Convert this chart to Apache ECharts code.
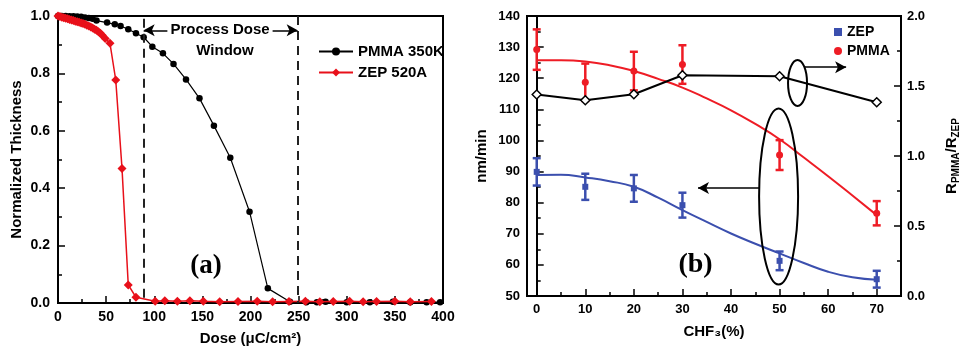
<!DOCTYPE html>
<html>
<head>
<meta charset="utf-8">
<script src="https://cdn.jsdelivr.net/npm/echarts@6/dist/echarts.min.js"></script>
<style>
  html, body { margin: 0; background: #fff; }
  #chart { width: 962px; height: 351px; }
</style>
</head>
<body>
<div id="chart"></div>
<script>
const FONT = '"Liberation Sans", Arial, sans-serif';
const SERIF = '"Liberation Serif", "Times New Roman", serif';

// ---- panel (a): contrast curves ----
const pmmaDose = [0, 4, 8, 12, 16, 20, 24, 28, 32, 36, 40, 51, 59, 65, 73, 81, 89, 98, 109, 120,
  133, 147, 162, 179, 199, 218, 241, 258, 269, 278, 300, 324, 348, 366, 383, 397];
const pmmaThickness = [1.0, 1.0, 1.0, 0.999, 0.999, 0.998, 0.997, 0.995, 0.993, 0.99, 0.984, 0.977,
  0.971, 0.965, 0.954, 0.94, 0.926, 0.893, 0.87, 0.833, 0.779, 0.713, 0.618, 0.506, 0.318, 0.051,
  0.004, 0.003, 0.003, 0.004, 0.003, 0.003, 0.004, 0.003, 0.003, 0.003];

const zepDose = [0, 2, 4, 6, 8, 10, 12, 14, 16, 18, 20, 22, 24, 26, 28, 30, 32, 34, 36, 38, 40, 42,
  44, 46, 49, 54, 60, 66.5, 73, 81, 101, 111, 124, 137, 151, 168, 187, 207, 223, 240, 257, 272, 286,
  303, 317, 331, 350, 366, 388];
const zepThickness = [1.0, 0.998, 0.996, 0.994, 0.992, 0.99, 0.988, 0.986, 0.984, 0.982, 0.98, 0.978,
  0.976, 0.974, 0.971, 0.968, 0.965, 0.962, 0.958, 0.954, 0.95, 0.945, 0.94, 0.933, 0.922, 0.905,
  0.777, 0.469, 0.063, 0.02, 0.006, 0.008, 0.006, 0.008, 0.006, 0.004, 0.005, 0.006, 0.004, 0.005,
  0.006, 0.004, 0.005, 0.006, 0.004, 0.005, 0.006, 0.004, 0.005];

const doseWindow = [89, 249];

// ---- panel (b): etch rates vs CHF3 ----
const chfPercent = [0, 10, 20, 30, 50, 70];
const zepRate = [89.9, 85.1, 84.6, 79.2, 61.3, 55.4];
const zepErr = [4.4, 4.2, 4.3, 4.0, 3.0, 2.7];
const pmmaRate = [129.2, 118.7, 122.3, 124.4, 95.3, 76.6];
const pmmaErr = [6.5, 6.0, 6.2, 6.2, 4.8, 3.9];
const rateRatio = [1.439, 1.398, 1.441, 1.577, 1.570, 1.384];

const fitX = [0, 5, 10, 15, 20, 25, 30, 35, 40, 45, 50, 55, 60, 65, 70];
const zepFit = [88.9, 89.0, 88.1, 86.9, 85.1, 81.6, 77.6, 73.8, 70.1, 66.8, 63.7, 60.6, 57.8, 56.0, 55.2];
const pmmaFit = [125.8, 125.8, 125.4, 124.2, 122.3, 119.8, 117.0, 113.5, 109.7, 105.3, 100.4, 94.5, 88.5, 82.3, 76.0];

const RED = '#ee1c25';
const BLUE = '#3b4fae';

const zip = (xs, ys) => xs.map((x, i) => [x, ys[i]]);
const errRows = (vals, errs) => chfPercent.map((x, i) => [x, vals[i] - errs[i], vals[i] + errs[i]]);

const labelStyle = (size) => ({ color: '#000', fontFamily: FONT, fontWeight: 'bold', fontSize: size });
const nameStyle = { color: '#000', fontFamily: FONT, fontWeight: 'bold', fontSize: 15 };
const axisLine = { show: true, lineStyle: { color: '#000', width: 2 } };
const tick = { show: true, inside: true, length: 7, lineStyle: { color: '#000', width: 1.5 } };
const minor = { show: true, splitNumber: 2, length: 4, lineStyle: { color: '#000', width: 1.5 } };

function errorBar(color) {
  return function (params, api) {
    const x = api.value(0);
    const lo = api.coord([x, api.value(1)]);
    const hi = api.coord([x, api.value(2)]);
    const style = { stroke: color, lineWidth: 2.5 };
    return {
      type: 'group',
      children: [
        { type: 'line', shape: { x1: lo[0], y1: lo[1], x2: hi[0], y2: hi[1] }, style },
        { type: 'line', shape: { x1: lo[0] - 4, y1: lo[1], x2: lo[0] + 4, y2: lo[1] }, style },
        { type: 'line', shape: { x1: hi[0] - 4, y1: hi[1], x2: hi[0] + 4, y2: hi[1] }, style },
      ],
    };
  };
}

const arrowLine = (from, to, symbols) => ({
  silent: true,
  symbol: symbols,
  symbolSize: [9, 11],
  label: { show: false },
  lineStyle: { color: '#000', width: 1.5, type: 'solid' },
  emphasis: { disabled: true },
  data: [[{ coord: from }, { coord: to }]],
});

const chart = echarts.init(document.getElementById('chart'));

chart.setOption({
  backgroundColor: '#fff',
  animation: false,
  grid: [
    { left: 58, top: 16, width: 385, height: 287, show: true, borderColor: '#000', borderWidth: 2 },
    { left: 527, top: 16, width: 379, height: 280, show: true, borderColor: '#000', borderWidth: 2 },
  ],
  legend: [
    {
      data: ['PMMA 350K', 'ZEP 520A'],
      orient: 'vertical', left: 313, top: 39,
      itemWidth: 34, itemHeight: 10, itemGap: 6,
      textStyle: labelStyle(15),
    },
    {
      data: [{ name: 'ZEP', icon: 'rect' }, { name: 'PMMA', icon: 'circle' }],
      orient: 'vertical', left: 829, top: 20,
      itemWidth: 8, itemHeight: 8, itemGap: 5,
      textStyle: labelStyle(14),
    },
  ],
  xAxis: [
    {
      gridIndex: 0, type: 'value', min: 0, max: 400, interval: 50,
      name: 'Dose (μC/cm²)', nameLocation: 'middle', nameGap: 28, nameTextStyle: nameStyle,
      axisLine, axisTick: tick, minorTick: minor, splitLine: { show: false },
      axisLabel: { ...labelStyle(14), margin: 7 },
    },
    {
      gridIndex: 1, type: 'value', min: -2, max: 75, splitNumber: 8,
      name: 'CHF₃(%)', nameLocation: 'middle', nameGap: 28, nameTextStyle: nameStyle,
      axisLine, axisTick: tick, minorTick: minor, splitLine: { show: false },
      axisLabel: { ...labelStyle(13), margin: 7, showMinLabel: false, showMaxLabel: false },
    },
  ],
  yAxis: [
    {
      gridIndex: 0, type: 'value', min: 0, max: 1, interval: 0.2,
      name: 'Normalized Thickness', nameLocation: 'middle', nameGap: 34, nameTextStyle: nameStyle,
      axisLine, axisTick: tick, minorTick: minor, splitLine: { show: false },
      axisLabel: { ...labelStyle(14), margin: 8, formatter: (v) => v.toFixed(1) },
    },
    {
      gridIndex: 1, type: 'value', min: 50, max: 140, interval: 10,
      name: 'nm/min', nameLocation: 'middle', nameGap: 38, nameTextStyle: nameStyle,
      axisLine, axisTick: tick, minorTick: minor, splitLine: { show: false },
      axisLabel: { ...labelStyle(13), margin: 7 },
    },
    {
      gridIndex: 1, type: 'value', position: 'right', min: 0, max: 2, interval: 0.5,
      name: 'R{s|PMMA}/R{s|ZEP}', nameLocation: 'middle', nameGap: 41, nameRotate: 90,
      nameTextStyle: { ...nameStyle, rich: { s: { ...labelStyle(10), padding: [9, 0, 0, 0] } } },
      axisLine, axisTick: tick, minorTick: minor, splitLine: { show: false },
      axisLabel: { ...labelStyle(13), margin: 6, formatter: (v) => v.toFixed(1) },
    },
  ],
  series: [
    {
      name: 'PMMA 350K', type: 'line', xAxisIndex: 0, yAxisIndex: 0,
      data: zip(pmmaDose, pmmaThickness),
      symbol: 'circle', symbolSize: 6.5,
      itemStyle: { color: '#000' }, lineStyle: { color: '#000', width: 1.2 },
      markLine: {
        silent: true, symbol: ['none', 'none'], label: { show: false },
        lineStyle: { color: '#222', width: 2, type: [9, 6] },
        emphasis: { disabled: true },
        data: [
          [{ coord: [doseWindow[0], 0.99] }, { coord: [doseWindow[0], 0] }],
          [{ coord: [doseWindow[1], 1.0] }, { coord: [doseWindow[1], 0] }],
        ],
      },
      z: 3,
    },
    {
      name: 'ZEP 520A', type: 'line', xAxisIndex: 0, yAxisIndex: 0,
      data: zip(zepDose, zepThickness),
      symbol: 'diamond', symbolSize: 9,
      itemStyle: { color: '#e8101a' }, lineStyle: { color: '#e8101a', width: 1.5 },
      markLine: arrowLine([doseWindow[0], 0.95], [doseWindow[1], 0.95], ['arrow', 'arrow']),
      z: 4,
    },
    {
      name: 'PMMA fit', type: 'line', xAxisIndex: 1, yAxisIndex: 1,
      data: zip(fitX, pmmaFit), smooth: true, showSymbol: false,
      lineStyle: { color: RED, width: 2 }, itemStyle: { color: RED },
    },
    {
      name: 'ZEP fit', type: 'line', xAxisIndex: 1, yAxisIndex: 1,
      data: zip(fitX, zepFit), smooth: true, showSymbol: false,
      lineStyle: { color: BLUE, width: 2 }, itemStyle: { color: BLUE },
      markLine: arrowLine([45.8, 84.7], [33.2, 84.7], ['none', 'arrow']),
    },
    {
      name: 'PMMA err', type: 'custom', xAxisIndex: 1, yAxisIndex: 1,
      data: errRows(pmmaRate, pmmaErr), renderItem: errorBar(RED), encode: { x: 0, y: [1, 2] }, z: 4,
    },
    {
      name: 'ZEP err', type: 'custom', xAxisIndex: 1, yAxisIndex: 1,
      data: errRows(zepRate, zepErr), renderItem: errorBar(BLUE), encode: { x: 0, y: [1, 2] }, z: 4,
    },
    {
      name: 'PMMA', type: 'scatter', xAxisIndex: 1, yAxisIndex: 1,
      data: zip(chfPercent, pmmaRate), symbol: 'circle', symbolSize: 7,
      itemStyle: { color: RED, opacity: 1 }, z: 5,
    },
    {
      name: 'ZEP', type: 'scatter', xAxisIndex: 1, yAxisIndex: 1,
      data: zip(chfPercent, zepRate), symbol: 'rect', symbolSize: 6,
      itemStyle: { color: BLUE, opacity: 1 }, z: 5,
    },
    {
      name: 'ratio', type: 'line', xAxisIndex: 1, yAxisIndex: 2,
      data: zip(chfPercent, rateRatio), symbol: 'diamond', symbolSize: 9,
      itemStyle: { color: '#fff', borderColor: '#000', borderWidth: 1.5 },
      lineStyle: { color: '#000', width: 2 },
      markLine: arrowLine([55.1, 1.634], [63.7, 1.634], ['none', 'arrow']),
      z: 5,
    },
  ],
});

// annotations placed in data space, converted to pixels
const pa = (p) => chart.convertToPixel({ xAxisIndex: 0, yAxisIndex: 0 }, p);
const pb = (p) => chart.convertToPixel({ xAxisIndex: 1, yAxisIndex: 1 }, p);
const pr = (p) => chart.convertToPixel({ xAxisIndex: 1, yAxisIndex: 2 }, p);

const txt = (pt, text, font, size, bg) => ({
  type: 'text', x: pt[0], y: pt[1], z: 20,
  style: {
    text, fill: '#000', fontFamily: font, fontWeight: 'bold', fontSize: size,
    align: 'center', verticalAlign: 'middle',
    backgroundColor: bg || 'transparent', padding: bg ? [0, 3] : 0,
  },
});

const ellipse = (pt, rx, ry) => ({
  type: 'ellipse', z: 20,
  shape: { cx: pt[0], cy: pt[1], rx, ry },
  style: { fill: 'none', stroke: '#000', lineWidth: 2 },
});

chart.setOption({
  graphic: [
    txt(pa([168.3, 0.95]), 'Process Dose', FONT, 15, '#fff'),
    txt(pa([173.5, 0.88]), 'Window', FONT, 15),
    txt(pa([153.8, 0.129]), '(a)', SERIF, 27),
    txt(pb([32.7, 60.2]), '(b)', SERIF, 28),
    ellipse(pr([53.7, 1.522]), 9.5, 23),
    ellipse(pb([49.8, 82.0]), 19.5, 88),
  ],
});
</script>
</body>
</html>
